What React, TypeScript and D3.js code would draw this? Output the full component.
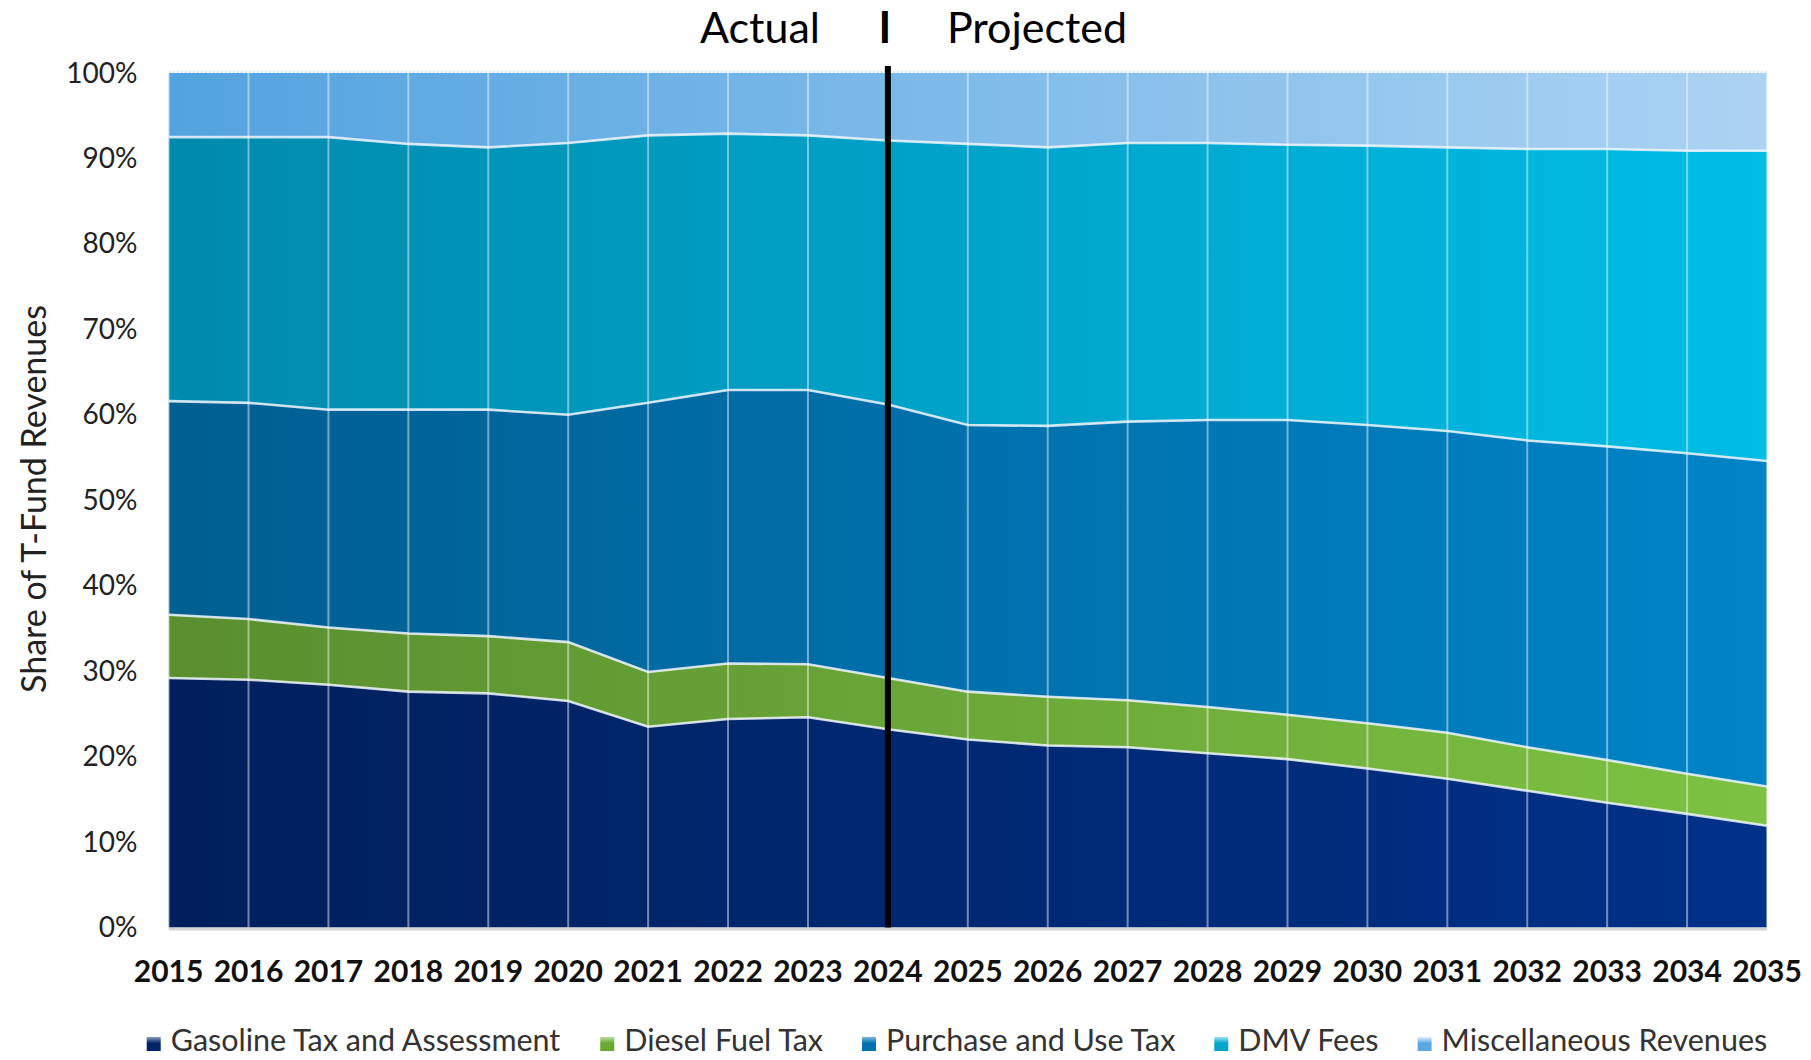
import React from "react";
import * as d3 from "d3";

const years = [2015, 2016, 2017, 2018, 2019, 2020, 2021, 2022, 2023, 2024, 2025, 2026, 2027, 2028, 2029, 2030, 2031, 2032, 2033, 2034, 2035];
const seriesNames = ["Gasoline Tax and Assessment", "Diesel Fuel Tax", "Purchase and Use Tax", "DMV Fees", "Miscellaneous Revenues"];
const gasoline = [29.2, 29.0, 28.4, 27.6, 27.4, 26.5, 23.5, 24.4, 24.6, 23.2, 22.0, 21.3, 21.1, 20.4, 19.7, 18.6, 17.4, 16.0, 14.6, 13.3, 11.9];
const diesel = [7.4, 7.1, 6.7, 6.8, 6.7, 6.9, 6.4, 6.5, 6.2, 6.0, 5.6, 5.7, 5.5, 5.4, 5.2, 5.3, 5.4, 5.1, 5.0, 4.7, 4.6];
const purchase = [25.0, 25.3, 25.5, 26.2, 26.5, 26.6, 31.5, 32.0, 32.1, 32.0, 31.2, 31.7, 32.6, 33.6, 34.5, 34.9, 35.3, 35.9, 36.7, 37.5, 38.1];
const dmv = [30.9, 31.1, 31.9, 31.1, 30.7, 31.8, 31.3, 30.0, 29.8, 30.9, 32.9, 32.6, 32.6, 32.4, 32.2, 32.7, 33.2, 34.1, 34.8, 35.4, 36.3];
const misc = [7.5, 7.5, 7.5, 8.3, 8.7, 8.2, 7.3, 7.1, 7.3, 7.9, 8.3, 8.7, 8.2, 8.2, 8.4, 8.5, 8.7, 8.9, 8.9, 9.1, 9.1];
const yTicks = [0, 0.1, 0.2, 0.3, 0.4, 0.5, 0.6, 0.7, 0.8, 0.9, 1.0];
const dividerYear = 2024;

const gradLeft = ["#001F5C", "#5A8E2F", "#005E91", "#008AAD", "#52A3E0"];
const gradRight = ["#003189", "#7DC242", "#0084C7", "#00BDE6", "#ACD3F3"];
const markerTop = ["#8a9cc4", "#b9dc98", "#7fb8dc", "#9fe3f2", "#e0eefa"];
const markerBottom = ["#002266", "#6aa834", "#0070ad", "#00a5c8", "#5aa8e2"];

const W = 1811;
const H = 1060;
const L = 168.6;
const R = 1767;
const T = 73;
const B = 927.5;

const FONT = "Lato, 'Open Sans', 'Noto Sans', sans-serif";

function measure(text: string, font: string): number {
  const c = document.createElement("canvas");
  const ctx = c.getContext("2d");
  if (!ctx) return text.length * 14;
  ctx.font = font;
  return ctx.measureText(text).width;
}

export default function App() {
  const cols = [gasoline, diesel, purchase, dmv, misc];
  const rows = years.map((y, i) => {
    const o: any = { year: y };
    seriesNames.forEach((n, k) => (o[n] = cols[k][i]));
    return o;
  });
  const stack = d3.stack<any>().keys(seriesNames).offset(d3.stackOffsetExpand);
  const layers = stack(rows);

  const x = d3.scaleLinear().domain([years[0], years[years.length - 1]]).range([L, R]);
  const y = d3.scaleLinear().domain([0, 1]).range([B, T]);

  const area = d3
    .area<any>()
    .x((d) => x(d.data.year))
    .y0((d) => y(d[0]))
    .y1((d) => y(d[1]));
  const topLine = d3
    .line<any>()
    .x((d) => x(d.data.year))
    .y((d) => y(d[1]));

  const legendFontSize = 30.5;
  const legendFont = `${legendFontSize}px ${FONT}`;
  const legendItems: { name: string; mx: number; tx: number }[] = [];
  let cx = 146.7;
  seriesNames.forEach((n) => {
    const w = measure(n, legendFont);
    legendItems.push({ name: n, mx: cx, tx: cx + 24 });
    cx += 24 + w + 38;
  });

  const xd = x(dividerYear);

  return (
    <svg width={W} height={H} style={{ position: "absolute", left: 0, top: 0, background: "#fff" }} fontFamily={FONT}>
      <defs>
        {seriesNames.map((n, k) => (
          <linearGradient key={n} id={`g${k}`} gradientUnits="userSpaceOnUse" x1={L} x2={R} y1={0} y2={0}>
            <stop offset="0%" stopColor={gradLeft[k]} />
            <stop offset="100%" stopColor={gradRight[k]} />
          </linearGradient>
        ))}
        {seriesNames.map((n, k) => (
          <linearGradient key={"m" + n} id={`m${k}`} x1="0" x2="0" y1="0" y2="1">
            <stop offset="0%" stopColor={markerTop[k]} />
            <stop offset="45%" stopColor={markerBottom[k]} />
            <stop offset="100%" stopColor={markerBottom[k]} />
          </linearGradient>
        ))}
      </defs>

      {/* areas */}
      {layers.map((layer, k) => (
        <path key={layer.key} d={area(layer) || ""} fill={`url(#g${k})`} />
      ))}

      {/* vertical gridlines over areas */}
      {years.map((yr) => (
        <line key={yr} x1={x(yr)} x2={x(yr)} y1={T} y2={B} stroke="#ffffff" strokeOpacity={0.45} strokeWidth={2} />
      ))}

      {/* series boundary lines */}
      {layers.slice(0, layers.length - 1).map((layer) => (
        <path key={"l" + layer.key} d={topLine(layer) || ""} fill="none" stroke="#eef4fa" strokeOpacity={0.85} strokeWidth={2.6} />
      ))}
      <line x1={L} x2={R} y1={T - 1} y2={T - 1} stroke="#d6e6f5" strokeWidth={2} strokeDasharray="2,2" />

      {/* baseline */}
      <line x1={L} x2={R} y1={B + 1.5} y2={B + 1.5} stroke="#d4d4d4" strokeWidth={3} />

      {/* divider */}
      <line x1={xd} x2={xd} y1={66} y2={B} stroke="#000" strokeWidth={6} />

      {/* y ticks */}
      {yTicks.map((t) => (
        <text key={t} x={137.5} y={y(t) - 1.5} textAnchor="end" dominantBaseline="central" fontSize={28} fill="#222">
          {d3.format(".0%")(t)}
        </text>
      ))}

      {/* x labels */}
      {years.map((yr) => (
        <text key={"x" + yr} x={x(yr)} y={982} textAnchor="middle" fontSize={30} fontWeight="bold" fill="#111">
          {yr}
        </text>
      ))}

      {/* y title */}
      <text
        transform={`translate(32, 499) rotate(-90)`}
        textAnchor="middle"
        dominantBaseline="central"
        fontSize={34}
        fill="#222"
      >
        Share of T-Fund Revenues
      </text>

      {/* header labels */}
      <text x={760} y={43} textAnchor="middle" fontSize={43} fill="#000">Actual</text>
      <text x={xd - 3} y={43} textAnchor="middle" fontSize={43} fontWeight="bold" fill="#000">I</text>
      <text x={1037} y={43} textAnchor="middle" fontSize={43} fill="#000">Projected</text>

      {/* legend */}
      {legendItems.map((it, k) => (
        <g key={"lg" + it.name}>
          <rect x={it.mx} y={1037} width={14} height={14} fill={`url(#m${k})`} />
          <text x={it.tx} y={1051} fontSize={legendFontSize} fill="#333">
            {it.name}
          </text>
        </g>
      ))}
    </svg>
  );
}
